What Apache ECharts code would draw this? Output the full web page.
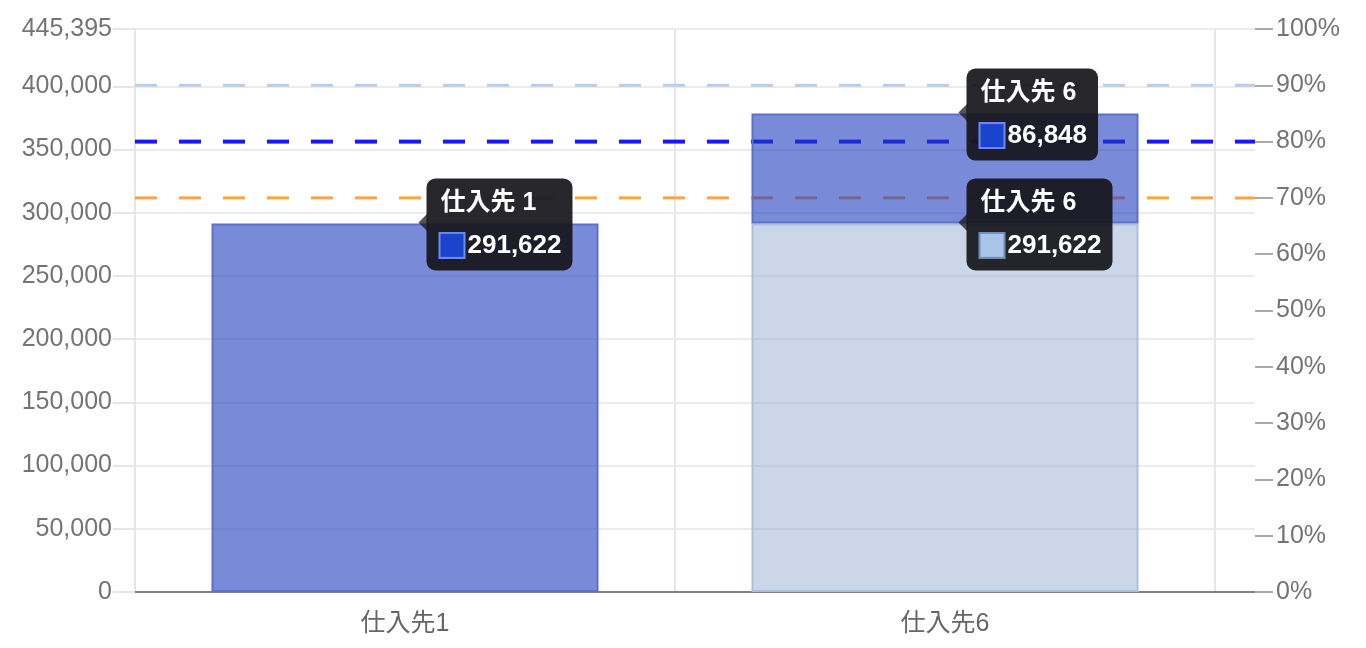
<!DOCTYPE html>
<html>
<head>
<meta charset="utf-8">
<script src="https://cdn.jsdelivr.net/npm/echarts@6/dist/echarts.min.js"></script>
<style>
html, body { margin: 0; padding: 0; background: #fff; }
#main { width: 1366px; height: 648px; }
</style>
</head>
<body>
<div id="main"></div>
<script>
/** ---------------- データ ---------------- */
var categories = ['仕入先1', '仕入先6'];
var baseValues = [null, 291622];      // 下段（薄い青）
var addValues = [291622, 86848];      // 上段（濃い青）
var targetRates = [90, 80, 70];       // 破線（%）
var targetColors = ['#b9cfe8', '#1616ff', '#ffa43c'];
var targetWidths = [3, 4, 3];
var leftMax = 445395;

var fontFamily = '"Liberation Sans", Arial, "Noto Sans CJK JP", sans-serif';
var boxColor = 'rgba(22,22,26,0.92)';

/** -------- ラベル（ツールチップ風） -------- */
function boxLabel(sqColor, sqBorder) {
    return {
        show: true,
        position: [215, -45],
        align: 'left',
        verticalAlign: 'top',
        backgroundColor: boxColor,
        borderRadius: 9,
        padding: [4, 11, 4, 14],
        formatter: function (p) {
            var name = p.name.replace('仕入先', '仕入先 ');
            return '{t|' + name + '}\n{sq|}{v|' + echarts.format.addCommas(p.value) + '}';
        },
        rich: {
            t: { color: '#fff', fontSize: 25, fontWeight: 'bold', fontFamily: fontFamily, lineHeight: 42 },
            sq: { width: 23, height: 23, backgroundColor: sqColor, borderColor: sqBorder, borderWidth: 2 },
            v: { color: '#fff', fontSize: 26, fontWeight: 'bold', fontFamily: fontFamily, lineHeight: 42, padding: [0, 0, 0, 4] }
        }
    };
}

// 吹き出しの矢印位置（棒の上端）
var arrowPoints = [];
for (var k = 0; k < categories.length; k++) {
    var b = baseValues[k] || 0;
    if (baseValues[k] != null) arrowPoints.push([categories[k], b]);
    if (addValues[k] != null) arrowPoints.push([categories[k], b + addValues[k]]);
}

var lineSeries = [];
for (var i = 0; i < targetRates.length; i++) {
    lineSeries.push({
        type: 'line',
        xAxisIndex: 1,
        yAxisIndex: 2,
        z: 1,
        symbol: 'none',
        silent: true,
        lineStyle: { color: targetColors[i], width: targetWidths[i], type: [22, 22] },
        data: [[0, targetRates[i]], [1, targetRates[i]]]
    });
}

var chart = echarts.init(document.getElementById('main'));
var option = {
    animation: false,
    textStyle: { fontFamily: fontFamily },
    grid: [
        { left: 135, right: 151, top: 29, bottom: 56 },
        { left: 135, right: 111, top: 29, bottom: 56 }
    ],
    xAxis: [
        {
            type: 'category',
            gridIndex: 0,
            data: categories,
            boundaryGap: true,
            axisLine: { show: false },
            axisTick: { show: false },
            axisLabel: { color: '#666', fontSize: 25, margin: 20 },
            splitLine: { show: true, lineStyle: { color: '#e6e6e6', width: 2 } }
        },
        {
            type: 'value',
            gridIndex: 1,
            min: 0,
            max: 1,
            axisLine: { show: true, onZero: false, lineStyle: { color: '#808080', width: 2 } },
            axisTick: { show: false },
            axisLabel: { show: false },
            splitLine: { show: false }
        }
    ],
    yAxis: [
        {
            type: 'value',
            gridIndex: 0,
            min: 0,
            max: leftMax,
            show: false
        },
        {
            type: 'value',
            gridIndex: 1,
            position: 'left',
            min: 0,
            max: leftMax,
            interval: 50000,
            axisLine: { show: false },
            axisTick: { show: true, length: 22, lineStyle: { color: '#e6e6e6', width: 2 } },
            axisLabel: {
                color: '#747474', fontSize: 25, margin: 23,
                formatter: function (v) { return echarts.format.addCommas(v); }
            },
            splitLine: { show: true, lineStyle: { color: '#ececec', width: 2 } }
        },
        {
            type: 'value',
            gridIndex: 1,
            position: 'right',
            min: 0,
            max: 100,
            interval: 10,
            axisLine: { show: false },
            axisTick: { show: true, length: 18, lineStyle: { color: '#aaa', width: 2 } },
            axisLabel: { color: '#747474', fontSize: 25, margin: 21, formatter: '{value}%' },
            splitLine: { show: false }
        }
    ],
    series: lineSeries.concat([
        {
            name: 'base',
            type: 'bar',
            xAxisIndex: 0,
            yAxisIndex: 0,
            stack: 'total',
            z: 3,
            barWidth: 387,
            itemStyle: { color: 'rgba(130,160,200,0.42)', borderColor: '#a9c0e0', borderWidth: 2 },
            label: boxLabel('#a8c4e8', '#6f8fb8'),
            data: baseValues
        },
        {
            name: 'add',
            type: 'bar',
            xAxisIndex: 0,
            yAxisIndex: 0,
            stack: 'total',
            z: 3,
            barWidth: 387,
            itemStyle: { color: 'rgba(30,60,190,0.6)', borderColor: '#5b70cf', borderWidth: 2 },
            label: boxLabel('#1a44cc', '#6a8cf0'),
            data: addValues
        },
        {
            name: 'arrow',
            type: 'scatter',
            xAxisIndex: 0,
            yAxisIndex: 0,
            z: 4,
            silent: true,
            symbol: 'triangle',
            symbolRotate: 90,
            symbolSize: [18, 9],
            symbolOffset: [18, -1],
            itemStyle: { color: boxColor },
            data: arrowPoints
        }
    ])
};
chart.setOption(option);
</script>
</body>
</html>
